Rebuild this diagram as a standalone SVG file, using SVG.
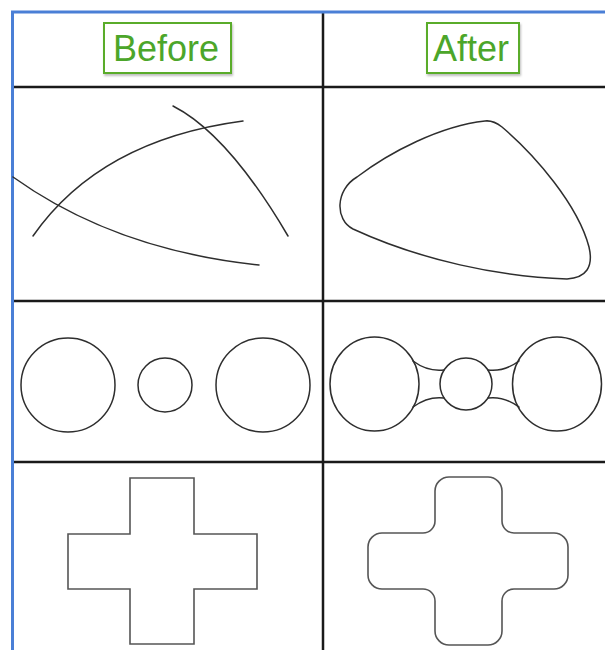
<svg xmlns="http://www.w3.org/2000/svg" width="605" height="650" viewBox="0 0 605 650">
  <defs>
    <filter id="sh" x="-10%" y="-10%" width="130%" height="140%">
      <feDropShadow dx="1" dy="2" stdDeviation="1.2" flood-color="#000" flood-opacity="0.25"/>
    </filter>
  </defs>
  <style>
    .grid { stroke: #1a1a1a; stroke-width: 2.5; fill: none; }
    .frame { stroke: #4a7fd6; stroke-width: 3; fill: none; }
    .lbl-box { fill: #ffffff; stroke: #5aac2c; stroke-width: 2; }
    .lbl { font-family: "Liberation Sans", Arial, sans-serif; font-size: 36px; fill: #4ca62a; text-anchor: middle; }
    .curve { fill: none; stroke: #2e2e2e; stroke-width: 1.5; stroke-linecap: round; }
    .shape { fill: none; stroke: #555555; stroke-width: 1.6; }
  </style>
  <rect width="605" height="650" fill="#ffffff"/>

  <g id="grid">
    <line class="grid" x1="12" y1="87" x2="605" y2="87"/>
    <line class="grid" x1="12" y1="301" x2="605" y2="301"/>
    <line class="grid" x1="12" y1="462" x2="605" y2="462"/>
    <line class="grid" x1="323" y1="12" x2="323" y2="650" stroke-width="2"/>
    <line class="frame" x1="11" y1="12" x2="605" y2="12"/>
    <line class="frame" x1="12.5" y1="11" x2="12.5" y2="650"/>
  </g>

  <g id="header-before">
    <rect class="lbl-box" x="104" y="23" width="127" height="50" filter="url(#sh)"/>
    <text class="lbl" x="166" y="61">Before</text>
  </g>
  <g id="header-after">
    <rect class="lbl-box" x="427" y="23" width="92" height="50" filter="url(#sh)"/>
    <text class="lbl" x="471" y="61">After</text>
  </g>

  <g id="row1-before">
    <path class="curve" d="M13,177 Q115,250 259,265"/>
    <path class="curve" d="M33,236 Q100,140 243,121"/>
    <path class="curve" d="M173,106 Q228,134 288,236"/>
  </g>
  <g id="row1-after">
    <path class="curve" d="M357,177 C390,152 440,126 485,121 Q493,120 502,127 C535,155 578,205 589,247 Q596,277 567,279 C500,277 420,260 353,229 C335,220 335,190 357,177 Z"/>
  </g>

  <g id="row2-before">
    <circle class="curve" cx="68" cy="385" r="47"/>
    <circle class="curve" cx="165" cy="385" r="27"/>
    <circle class="curve" cx="263" cy="385" r="47"/>
  </g>
  <g id="row2-after">
    <ellipse class="curve" cx="374.5" cy="384" rx="44.5" ry="47"/>
    <circle class="curve" cx="466" cy="384" r="26"/>
    <ellipse class="curve" cx="557" cy="384" rx="44.5" ry="47"/>
    <path class="curve" d="M413,361 Q428,372 444,370"/>
    <path class="curve" d="M413,407 Q428,396 444,398"/>
    <path class="curve" d="M488,370 Q504,372 519,361"/>
    <path class="curve" d="M488,398 Q504,396 519,407"/>
  </g>

  <g id="row3-before">
    <polygon class="shape" points="130,478 194,478 194,534 257,534 257,589 194,589 194,644 130,644 130,589 68,589 68,534 130,534"/>
  </g>
  <g id="row3-after">
    <path class="shape" d="M449,477 H488 A14,14 0 0 1 502,491 V521 A12,12 0 0 0 514,533 H554 A14,14 0 0 1 568,547 V575 A14,14 0 0 1 554,589 H514 A12,12 0 0 0 502,601 V631 A14,14 0 0 1 488,645 H449 A14,14 0 0 1 435,631 V601 A12,12 0 0 0 423,589 H382 A14,14 0 0 1 368,575 V547 A14,14 0 0 1 382,533 H423 A12,12 0 0 0 435,521 V491 A14,14 0 0 1 449,477 Z"/>
  </g>
</svg>
